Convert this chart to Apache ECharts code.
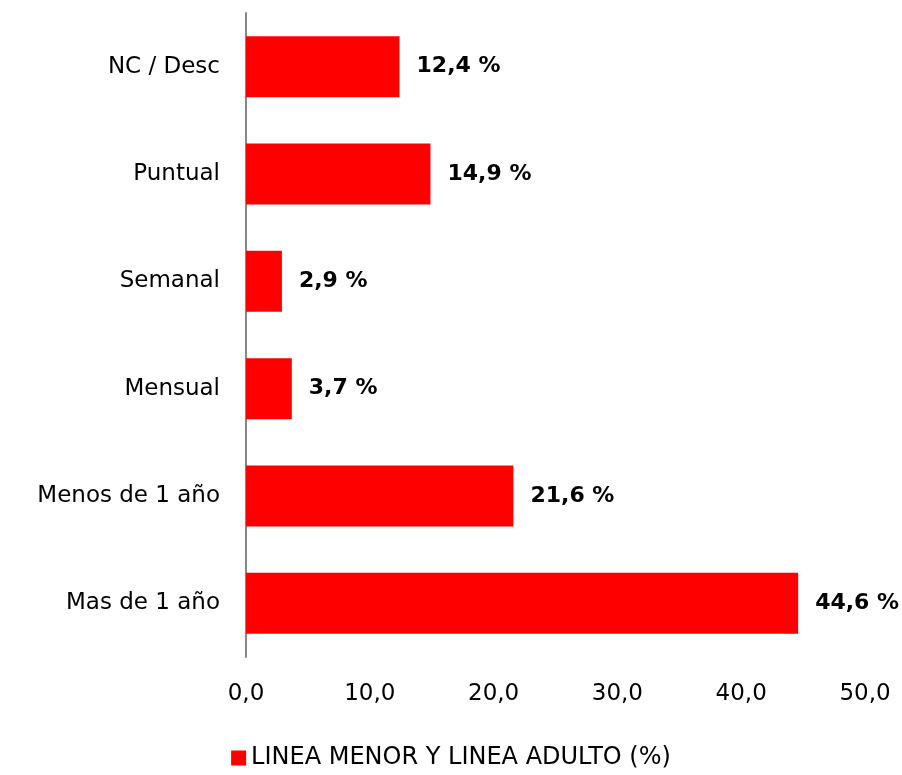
<!DOCTYPE html>
<html>
<head>
<meta charset="utf-8">
<script src="https://cdn.jsdelivr.net/npm/echarts@6/dist/echarts.min.js"></script>
<style>
  html, body { margin: 0; padding: 0; background: #fff; }
  #main { width: 902px; height: 775px; }
</style>
</head>
<body>
<div id="main"></div>
<script>
  // categorías de abajo hacia arriba
  const categories = ['Mas de 1 año', 'Menos de 1 año', 'Mensual', 'Semanal', 'Puntual', 'NC / Desc'];
  const values = [44.6, 21.6, 3.7, 2.9, 14.9, 12.4];
  const seriesName = 'LINEA MENOR Y LINEA ADULTO (%)';
  const fontFamily = 'DejaVu Sans';

  const myChart = echarts.init(document.getElementById('main'));
  myChart.setOption({
    animation: false,
    textStyle: { fontFamily: fontFamily },
    legend: {
      data: [seriesName],
      bottom: 0,
      left: 'center',
      icon: 'rect',
      itemWidth: 15,
      itemHeight: 15,
      itemGap: 6,
      textStyle: { fontSize: 24, color: '#000', fontFamily: fontFamily }
    },
    grid: {
      left: 246,
      right: 37,
      top: 13,
      bottom: 118
    },
    xAxis: {
      type: 'value',
      min: 0,
      max: 50,
      interval: 10,
      axisLine: { show: false },
      axisTick: { show: false },
      splitLine: { show: false },
      axisLabel: {
        margin: 26,
        fontSize: 23,
        color: '#000',
        formatter: v => v.toFixed(1).replace('.', ',')
      }
    },
    yAxis: {
      type: 'category',
      data: categories,
      axisLine: { show: true, lineStyle: { color: '#888', width: 2 } },
      axisTick: { show: false },
      axisLabel: { margin: 26, fontSize: 23, color: '#000', padding: [10, 0, 0, 0] }
    },
    series: [
      {
        name: seriesName,
        type: 'bar',
        data: values,
        barWidth: 61,
        itemStyle: { color: '#ff0000' },
        label: {
          show: true,
          position: 'right',
          distance: 17,
          fontSize: 22,
          fontWeight: 'bold',
          color: '#000',
          padding: [14, 0, 0, 0],
          formatter: p => p.value.toFixed(1).replace('.', ',') + ' %'
        }
      }
    ]
  });
</script>
</body>
</html>
